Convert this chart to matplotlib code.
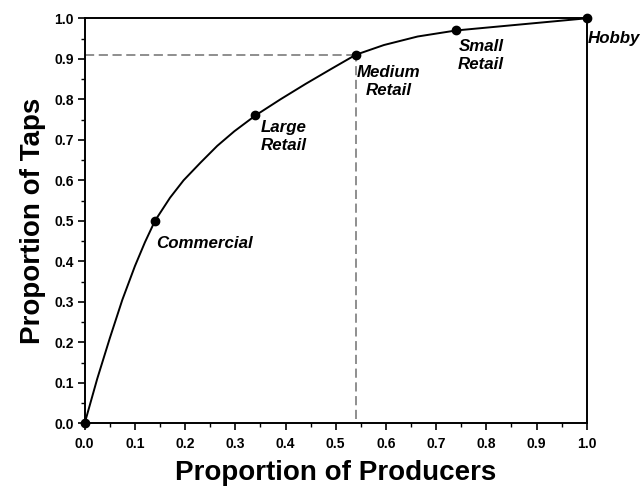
import matplotlib.pyplot as plt
from matplotlib.ticker import MultipleLocator

# sector points (proportion of producers, proportion of taps)
sectors = ["Commercial", "Large\nRetail", "Medium\nRetail", "Small\nRetail", "Hobby"]
prod = [0.0, 0.14, 0.34, 0.54, 0.74, 1.0]
taps = [0.0, 0.50, 0.76, 0.91, 0.97, 1.0]

# curve
curve_x = [0.0, 0.025, 0.05, 0.075, 0.10, 0.12, 0.14, 0.17, 0.197, 0.231, 0.264, 0.298,
           0.34, 0.39, 0.44, 0.491, 0.54, 0.596, 0.663, 0.704, 0.74, 1.0]
curve_y = [0.0, 0.11, 0.21, 0.305, 0.388, 0.447, 0.50, 0.557, 0.60, 0.644, 0.685, 0.721,
           0.76, 0.80, 0.838, 0.875, 0.91, 0.934, 0.955, 0.963, 0.97, 1.0]

# label positions
lab_x = [0.142, 0.397, 0.605, 0.789, 1.053]
lab_y = [0.444, 0.707, 0.843, 0.907, 0.951]
lab_ha = ["left", "center", "center", "center", "center"]

plt.rcParams['font.family'] = ['Liberation Sans', 'DejaVu Sans']

fig = plt.figure(figsize=(6.44, 4.93), dpi=100)
ax = fig.add_axes([0.1315, 0.1414, 0.9112 - 0.1315, 0.9629 - 0.1414])

# dashed guide lines at medium retail
ax.plot([0, prod[3]], [taps[3], taps[3]], ls=(0, (6, 3)), color='#707070', lw=1.1, zorder=1)
ax.plot([prod[3], prod[3]], [0.01, taps[3]], ls=(0, (6, 3)), color='#707070', lw=1.1, zorder=1)

ax.plot(curve_x, curve_y, color='black', lw=1.4, zorder=2, solid_joinstyle='round')
ax.plot(prod, taps, 'o', color='black', ms=6, zorder=3, clip_on=False)

for name, x, y, ha in zip(sectors, lab_x, lab_y, lab_ha):
    ax.text(x, y, name, ha=ha, va='center', fontsize=12.2, fontweight='bold',
            style='italic', linespacing=1.25, clip_on=False)

ax.set_xlim(0, 1)
ax.set_ylim(0, 1)
ax.xaxis.set_major_locator(MultipleLocator(0.1))
ax.yaxis.set_major_locator(MultipleLocator(0.1))
ax.xaxis.set_minor_locator(MultipleLocator(0.05))
ax.yaxis.set_minor_locator(MultipleLocator(0.05))
ax.tick_params(which='major', direction='out', length=5, width=1.2, labelsize=10)
ax.tick_params(which='minor', direction='out', length=3, width=1.0)
ax.tick_params(axis='x', which='major', pad=5)
ax.tick_params(axis='y', which='major', pad=3)
for lbl in ax.get_xticklabels() + ax.get_yticklabels():
    lbl.set_fontweight('bold')
ax.xaxis.set_major_formatter(plt.FormatStrFormatter('%.1f'))
ax.yaxis.set_major_formatter(plt.FormatStrFormatter('%.1f'))
for sp in ax.spines.values():
    sp.set_linewidth(1.4)

ax.set_xlabel("Proportion of Producers", fontsize=20, fontweight='bold', labelpad=6)
ax.set_ylabel("Proportion of Taps", fontsize=20, fontweight='bold', labelpad=6)

fig.savefig("out.png", dpi=100)
